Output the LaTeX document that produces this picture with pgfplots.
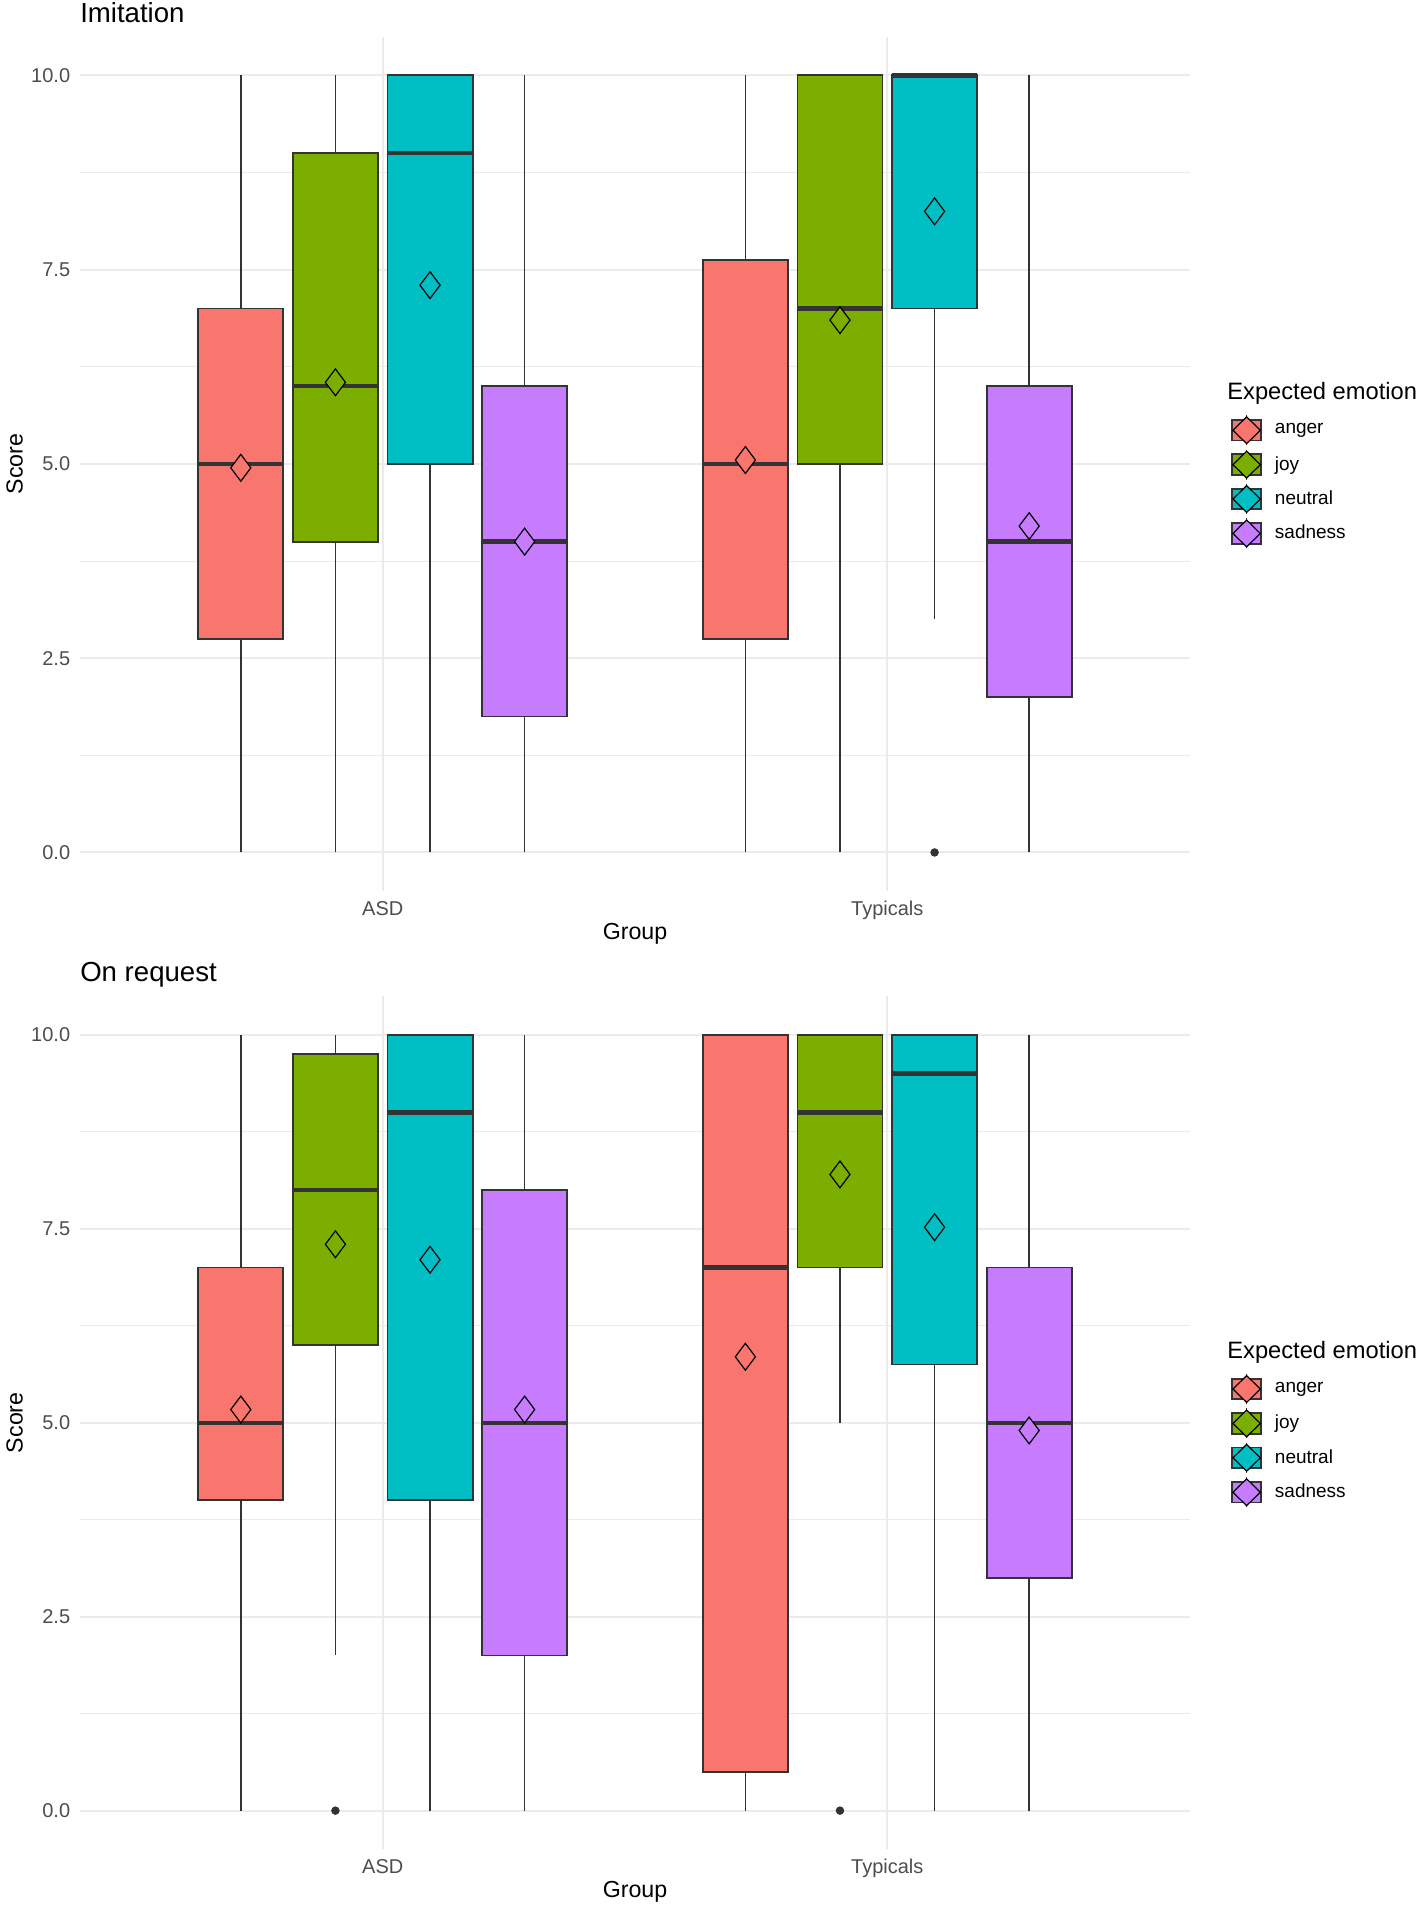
\documentclass[border=0pt]{standalone}
\usepackage{fontspec}
\setmainfont{Liberation Sans}
\usepackage{pgfplots}
\pgfplotsset{compat=1.18}
\usepgfplotslibrary{statistics}
\definecolor{cA}{HTML}{F8766D}
\definecolor{cJ}{HTML}{7CAE00}
\definecolor{cN}{HTML}{00BFC4}
\definecolor{cS}{HTML}{C77CFF}
\definecolor{gtwenty}{HTML}{333333}
\definecolor{gthirty}{HTML}{4D4D4D}
\definecolor{ggrid}{HTML}{EBEBEB}

% draw position, lower whisker, lower quartile, median, upper quartile, upper whisker, colour
\newcommand{\bx}[7]{%
  \addplot[boxplot prepared={draw position=#1, lower whisker=#2, lower quartile=#3,
      median=#4, upper quartile=#5, upper whisker=#6, box extend=0.16875, whisker extend=0},
    fill=#7, draw=gtwenty, line width=0.9pt, solid] coordinates {};}

\pgfplotsset{
  emokey/.style={legend image code/.code={
      \path[draw=none, fill=none] (0pt,-1pt) rectangle (19.5pt,1pt);
      \draw[gtwenty, line width=0.7pt] (7.35pt,-7.5pt) -- (7.35pt,7.5pt);
      \draw[fill=#1, draw=gtwenty, line width=0.9pt] (0pt,-5.15pt) rectangle (14.7pt,5.15pt);
      \draw[fill=#1, draw=black, line width=0.6pt] (7.35pt,-6.7pt) -- (14.2pt,0pt) -- (7.35pt,6.7pt) -- (0.5pt,0pt) -- cycle;
  }},
  emobase/.style={
    scale only axis, width=555pt, clip=false,
    boxplot/draw direction=y,
    boxplot/every median/.style={line width=2.2pt},
    boxplot/every whisker/.style={line width=0.85pt},
    xmin=0.4, xmax=2.6, ymin=-0.5, ymax=10.5,
    xtick={1,2}, xticklabels={ASD,Typicals},
    ytick={0,2.5,5,7.5,10}, minor ytick={1.25,3.75,6.25,8.75},
    grid=both,
    major grid style={draw=ggrid, line width=1.0pt},
    minor grid style={draw=ggrid, line width=0.5pt},
    axis line style={draw=none}, major tick length=0pt, minor tick length=0pt,
    tick label style={font=\fontsize{10}{12}\selectfont, text=gthirty},
    /pgf/number format/assume math mode=true,
    yticklabel style={/pgf/number format/fixed, /pgf/number format/fixed zerofill, /pgf/number format/precision=1},
    xticklabel style={yshift=-1.4pt},
    yticklabel style={xshift=-1.4pt},
    xlabel=Group, ylabel=Score,
    label style={font=\fontsize{11.6}{14}\selectfont},
    xlabel style={at={(axis description cs:0.5,0)}, anchor=center, yshift=-21.4pt},
    ylabel style={at={(axis description cs:-0.0589,0.5)}, anchor=center},
    title style={at={(axis description cs:0,1)}, anchor=base west, yshift=1.25pt, xshift=-3.4pt, font=\fontsize{13.8}{16}\selectfont},
    legend style={draw=none, fill=none, at={(axis description cs:1.0366,0.479)}, anchor=west,
      inner sep=0pt, row sep=1.5pt, font=\fontsize{9.5}{11}\selectfont,
      nodes={inner sep=2pt}},
    legend cell align=left,
  }
}

\begin{document}
\begin{tikzpicture}
% ---------------- Imitation ----------------
\begin{axis}[emobase, at={(40pt,-445.65pt)}, anchor=south west, height=427.4pt, title={Imitation}]
\addlegendimage{emokey=cA}\addlegendentry{anger}
\addlegendimage{emokey=cJ}\addlegendentry{joy}
\addlegendimage{emokey=cN}\addlegendentry{neutral}
\addlegendimage{emokey=cS}\addlegendentry{sadness}
% ASD
\bx{0.71875}{0}{2.75}{5}{7}{10}{cA}
\bx{0.90625}{0}{4}{6}{9}{10}{cJ}
\bx{1.09375}{0}{5}{9}{10}{10}{cN}
\bx{1.28125}{0}{1.75}{4}{6}{10}{cS}
% Typicals
\bx{1.71875}{0}{2.75}{5}{7.625}{10}{cA}
\bx{1.90625}{0}{5}{7}{10}{10}{cJ}
\bx{2.09375}{3}{7}{10}{10}{10}{cN}
\bx{2.28125}{0}{2}{4}{6}{10}{cS}
% outliers
\addplot[only marks, mark=*, mark size=1.9pt, color=gtwenty] coordinates {(2.09375,0)};
% means
\addplot[only marks, mark=diamond*, mark size=6.7pt, mark options={fill=cA, draw=black, line width=0.6pt}] coordinates {(0.71875,4.95) (1.71875,5.05)};
\addplot[only marks, mark=diamond*, mark size=6.7pt, mark options={fill=cJ, draw=black, line width=0.6pt}] coordinates {(0.90625,6.05) (1.90625,6.85)};
\addplot[only marks, mark=diamond*, mark size=6.7pt, mark options={fill=cN, draw=black, line width=0.6pt}] coordinates {(1.09375,7.3) (2.09375,8.25)};
\addplot[only marks, mark=diamond*, mark size=6.7pt, mark options={fill=cS, draw=black, line width=0.6pt}] coordinates {(1.28125,4.0) (2.28125,4.2)};
\node[anchor=west, font=\fontsize{11.85}{14}\selectfont, inner sep=0pt] at (axis description cs:1.0333,0.582) {Expected emotion};
\end{axis}
% ---------------- On request ----------------
\begin{axis}[emobase, at={(40pt,-924.7pt)}, anchor=south west, height=426.7pt, title={On request}]
\addlegendimage{emokey=cA}\addlegendentry{anger}
\addlegendimage{emokey=cJ}\addlegendentry{joy}
\addlegendimage{emokey=cN}\addlegendentry{neutral}
\addlegendimage{emokey=cS}\addlegendentry{sadness}
% ASD
\bx{0.71875}{0}{4}{5}{7}{10}{cA}
\bx{0.90625}{2}{6}{8}{9.75}{10}{cJ}
\bx{1.09375}{0}{4}{9}{10}{10}{cN}
\bx{1.28125}{0}{2}{5}{8}{10}{cS}
% Typicals
\bx{1.71875}{0}{0.5}{7}{10}{10}{cA}
\bx{1.90625}{5}{7}{9}{10}{10}{cJ}
\bx{2.09375}{0}{5.75}{9.5}{10}{10}{cN}
\bx{2.28125}{0}{3}{5}{7}{10}{cS}
% outliers
\addplot[only marks, mark=*, mark size=1.9pt, color=gtwenty] coordinates {(0.90625,0) (1.90625,0)};
% means
\addplot[only marks, mark=diamond*, mark size=6.7pt, mark options={fill=cA, draw=black, line width=0.6pt}] coordinates {(0.71875,5.17) (1.71875,5.85)};
\addplot[only marks, mark=diamond*, mark size=6.7pt, mark options={fill=cJ, draw=black, line width=0.6pt}] coordinates {(0.90625,7.3) (1.90625,8.2)};
\addplot[only marks, mark=diamond*, mark size=6.7pt, mark options={fill=cN, draw=black, line width=0.6pt}] coordinates {(1.09375,7.1) (2.09375,7.52)};
\addplot[only marks, mark=diamond*, mark size=6.7pt, mark options={fill=cS, draw=black, line width=0.6pt}] coordinates {(1.28125,5.17) (2.28125,4.9)};
\node[anchor=west, font=\fontsize{11.85}{14}\selectfont, inner sep=0pt] at (axis description cs:1.0333,0.5828) {Expected emotion};
\end{axis}
\pgfresetboundingbox
\path[use as bounding box] (0pt,0pt) rectangle (709pt,-953.5pt);
\end{tikzpicture}
\end{document}
